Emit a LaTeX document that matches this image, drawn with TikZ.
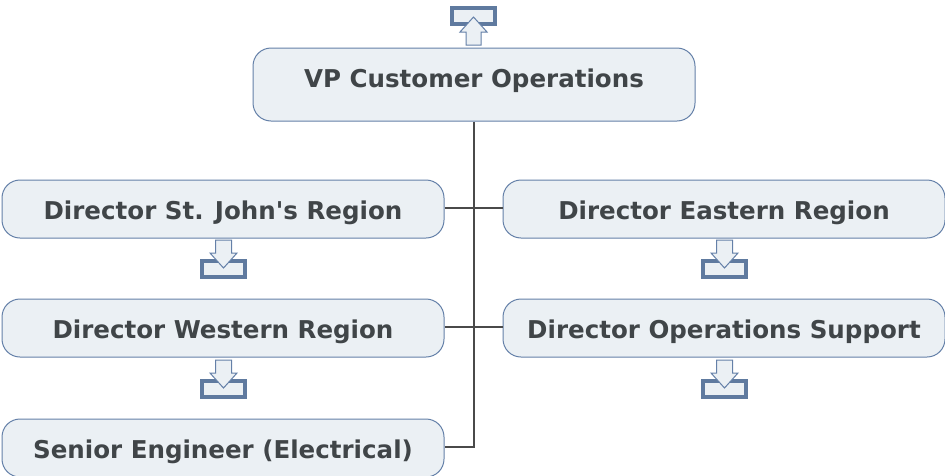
\documentclass[tikz,border=0pt]{standalone}
\usepackage{fontspec}
\setmainfont{DejaVu Sans}
\newfontfamily\cardfont{DejaVu Sans}
\definecolor{boxfill}{HTML}{EBF0F4}
\definecolor{boxline}{HTML}{6480A8}
\definecolor{iconline}{HTML}{5F7A9F}
\definecolor{txt}{HTML}{404548}
\definecolor{conn}{HTML}{4A4A4A}
\tikzset{
  x=0.75pt,y=-0.75pt,
  card/.style={draw=boxline,fill=boxfill,line width=0.75pt,rounded corners=13.5pt,minimum width=331.5pt,inner sep=0pt,text=txt,font=\cardfont\bfseries\fontsize{18.4pt}{22pt}\selectfont,align=center,text height=16pt,text depth=1pt},
  tray/.style={draw=iconline,fill=boxfill,line width=3pt},
  arrowicon/.style={draw=boxline,fill=boxfill,line width=0.75pt,line join=miter},
  link/.style={draw=conn,line width=0.85pt}
}
\newcommand{\downicon}[2]{%
  \path[tray] ({#1-21.5},{#2+2}) rectangle ({#1+21.5},{#2+18});
  \path[arrowicon] ({#1-8},{#2-19}) -- ({#1+8},{#2-19}) -- ({#1+8},{#2-6}) -- ({#1+13.5},{#2-6}) -- ({#1},{#2+9}) -- ({#1-13.5},{#2-6}) -- ({#1-8},{#2-6}) -- cycle;
}
\begin{document}
\begin{tikzpicture}
\useasboundingbox (0,0) rectangle (945,475);
\node[card,minimum height=54.75pt] (vp) at (474,84.5) {\raisebox{4.9pt}{VP Customer Operations}};
\node[card,minimum height=43.5pt] (stj) at (223,209) {Director St. John's Region};
\node[card,minimum height=43.5pt] (west) at (223,328) {Director Western Region};
\node[card,minimum height=43.5pt] (eng) at (223,448) {Senior Engineer (Electrical)};
\node[card,minimum height=43.5pt] (east) at (724,209) {Director Eastern Region};
\node[card,minimum height=43.5pt] (ops) at (724,328) {Director Operations Support};
\path[link] (vp.south) |- ([yshift=0.75pt]eng.east);
\path[link] ([yshift=0.75pt]stj.east) -- ([yshift=0.75pt]east.west);
\path[link] ([yshift=0.75pt]west.east) -- ([yshift=0.75pt]ops.west);
\path[tray] (452,8) rectangle (495,24);
\path[arrowicon] (473.5,17) -- (487,32) -- (481,32) -- (481,45) -- (466,45) -- (466,32) -- (460,32) -- cycle;
\downicon{223.5}{259}
\downicon{724.5}{259}
\downicon{223.5}{379}
\downicon{724.5}{379}
\end{tikzpicture}
\end{document}
